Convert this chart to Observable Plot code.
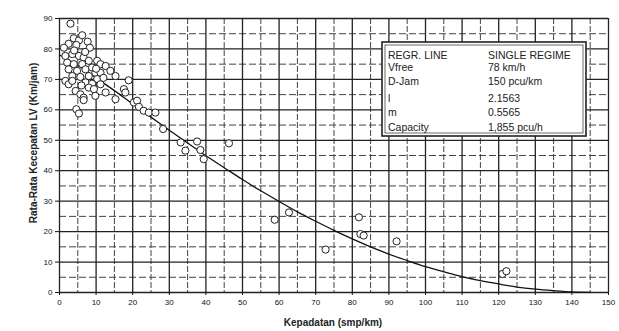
<!DOCTYPE html>
<html><head><meta charset="utf-8">
<script src="https://cdn.jsdelivr.net/npm/d3@7"></script>
<script src="https://cdn.jsdelivr.net/npm/@observablehq/plot@0.6"></script>
<style>body{margin:0;background:#fff}svg{display:block}</style>
</head><body><div id="chart"></div>
<script>
// Observed points: density (smp/km) and average LV speed (km/jam)
const obsDensity = [3.0,2.5,3.9,5.3,6.2,4.6,7.7,8.3,1.2,1.6,3.5,5.3,6.6,2.1,3.9,6.2,8.0,10.3,11.2,12.6,13.9,2.5,4.8,7.1,8.9,9.8,11.2,15.3,3.5,5.7,8.0,10.3,1.6,2.5,7.1,8.9,11.2,8.0,9.4,18.9,4.4,5.7,6.6,6.6,9.8,12.6,15.3,17.6,18.0,4.6,5.3,20.3,21.2,21.7,23.0,24.4,26.2,28.3,33.1,34.4,37.6,38.5,39.4,46.3,58.8,62.7,81.8,82.2,83.1,72.7,92.1,121.0,122.1,4.0,7.0,10.0,12.0,6.0,3.5];
const obsSpeed   = [88.3,81.7,83.5,82.8,84.5,81.3,82.4,80.4,80.4,77.7,78.3,77.7,77.2,75.5,75.0,75.0,76.1,76.1,75.0,74.4,72.8,73.3,72.8,73.3,73.9,72.2,72.2,71.1,71.1,70.8,71.1,70.1,69.5,68.4,69.0,68.6,68.4,67.3,66.8,69.7,66.2,65.1,64.0,63.2,64.6,65.7,63.5,66.8,65.7,60.2,58.8,62.4,63.0,61.0,59.7,59.1,59.1,53.7,49.3,46.6,49.6,46.8,43.8,49.0,23.9,26.3,24.7,19.2,18.7,14.1,16.8,6.1,7.0,79.5,79.0,73.5,70.5,68.0,69.5];
// Regression line
const curveDensity = [0,5,10,15,20,25,30,35,40,45,50,55,60,65,70,75,80,85,90,95,100,105,110,115,120,125,130,135,140,145];
const curveSpeed   = [78.0,74.6,70.5,66.3,61.9,57.6,53.3,49.1,44.9,41.0,37.1,33.4,29.9,26.5,23.4,20.4,17.6,15.0,12.6,10.5,8.5,6.8,5.2,3.9,2.8,1.8,1.1,0.6,0.2,0.05];
// Axes ticks / grid
const xTicks = [0,10,20,30,40,50,60,70,80,90,100,110,120,130,140,150];
const xMinor = [5,15,25,35,45,55,65,75,85,95,105,115,125,135,145];
const yTicks = [0,10,20,30,40,50,60,70,80,90];
const yMinor = [5,15,25,35,45,55,65,75,85];
// Legend table
const legendLabels = ["REGR. LINE","Vfree","D-Jam","l","m","Capacity"];
const legendValues = ["SINGLE REGIME","78 km/h","150 pcu/km","2.1563","0.5565","1,855 pcu/h"];

const points = obsDensity.map((d,i)=>({k:d, v:obsSpeed[i]}));
const curve = curveDensity.map((d,i)=>({k:d, v:curveSpeed[i]}));

const chart = Plot.plot({
  width: 619, height: 331,
  marginLeft: 59, marginRight: 11, marginTop: 18, marginBottom: 39,
  style: {fontFamily: "Liberation Sans, Arial, sans-serif", fontSize: "8px", color: "#111", background: "#fff"},
  x: {domain: [0,150]},
  y: {domain: [0,90]},
  marks: [
    Plot.ruleY(yMinor, {stroke: "#444", strokeWidth: 1, strokeDasharray: "7,3"}),
    Plot.ruleX(xMinor, {stroke: "#444", strokeWidth: 1, strokeDasharray: "6,2"}),
    Plot.ruleY(yTicks, {stroke: "#222", strokeWidth: 1.3}),
    Plot.ruleX(xTicks, {stroke: "#222", strokeWidth: 1.3}),
    Plot.axisX({ticks: xTicks, tickSize: 3, tickPadding: 4, label: null, stroke: "#111"}),
    Plot.axisY({ticks: yTicks, tickSize: 4, tickPadding: 3, label: null, stroke: "#111"}),
    Plot.line(curve, {x: "k", y: "v", stroke: "#111", strokeWidth: 1.3, curve: "monotone-x"}),
    Plot.dot(points, {x: "k", y: "v", r: 3.6, stroke: "#222", strokeWidth: 1, fill: "#fff"})
  ]
});
document.getElementById("chart").appendChild(chart);

const svg = d3.select(chart);
svg.append("text").attr("x", 333).attr("y", 326).attr("text-anchor","middle")
  .attr("font-size", 10).attr("font-weight","bold").attr("fill","#222").text("Kepadatan (smp/km)");
svg.append("text").attr("transform","translate(37,143) rotate(-90)").attr("text-anchor","middle")
  .attr("font-size", 10).attr("font-weight","bold").attr("fill","#222").text("Rata-Rata Kecepatan LV (Km/jam)");

const g = svg.append("g").attr("text-anchor","start");
g.append("rect").attr("x",382).attr("y",42).attr("width",204).attr("height",94)
  .attr("fill","#fff").attr("stroke","#222").attr("stroke-width",1.6);
g.append("rect").attr("x",385).attr("y",45).attr("width",198).attr("height",88)
  .attr("fill","none").attr("stroke","#444").attr("stroke-width",0.8);
const rowsY = [58.5,71,85,101.5,116,131];
legendLabels.forEach((t,i)=>{
  g.append("text").attr("x",388).attr("y",rowsY[i]).attr("text-anchor","start").attr("font-size",10.5).attr("fill","#222").text(t);
  g.append("text").attr("x",488).attr("y",rowsY[i]).attr("text-anchor","start").attr("font-size",10.5).attr("fill","#222").text(legendValues[i]);
});
</script></body></html>
